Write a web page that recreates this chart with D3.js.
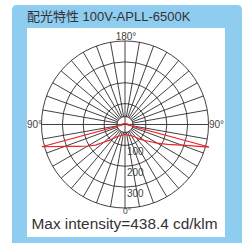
<!DOCTYPE html>
<html><head><meta charset="utf-8">
<script src="https://cdn.jsdelivr.net/npm/d3@7/dist/d3.min.js"></script>
<style>html,body{margin:0;padding:0;background:#fff;}svg{display:block;}</style>
</head><body>
<svg id="c" width="244" height="246"></svg>
<script>
// ---- data ----
const titleText = "配光特性 100V-APLL-6500K";
const footerText = "Max intensity=438.4 cd/klm";
const anglesDeg = [0,10,20,30,40,45,50,55,60,65,70,75,80,90,100,110,120,130,140,150,160,170,180];
const planeRight = [47,50,55,62,80,97,118,142,178,225,290,417,15,19,14,10,8,6,5,4,3,3,3];
const planeLeft  = [47,50,56,64,87,108,130,172,206,248,305,412,15,19,14,10,8,6,5,4,3,3,3];
const ringValues = [100,200,300,400];
const ringLabels = [100,200,300];
const spokeStep = 10;
const angleLabels = [{t:"180°",pos:"top"},{t:"0°",pos:"bottom"},{t:"90°",pos:"left"},{t:"90°",pos:"right"}];

// ---- layout ----
const svg = d3.select("#c");
const font = "'Liberation Sans','Noto Sans CJK JP',Arial,sans-serif";
const cx = 125, cy = 124.5, R = 83.5, hole = 8;
const r = d3.scaleLinear().domain([0,400]).range([0,R]);

// blue panel with rounded top corners
const bx0=12,by0=5,bx1=242,by1=243,rad=5;
svg.append("path")
  .attr("d",`M${bx0},${by1}V${by0+rad}Q${bx0},${by0} ${bx0+rad},${by0}H${bx1-rad}Q${bx1},${by0} ${bx1},${by0+rad}V${by1}Z`)
  .attr("fill","#8fcdf0");
svg.append("rect").attr("x",27).attr("y",28).attr("width",198).attr("height",209).attr("fill","#fff");

svg.append("text").attr("x",27).attr("y",21).attr("font-family",font).attr("font-size",13)
  .attr("fill","#333").text(titleText);

const g = svg.append("g").attr("transform",`translate(${cx},${cy})`);
const gridCol = "#231f20";

// spokes
d3.range(0,360,spokeStep).forEach(a=>{
  const rad_ = a*Math.PI/180;
  const axis = a%90===0;
  const r0 = axis?0:hole;
  g.append("line")
    .attr("x1",r0*Math.sin(rad_)).attr("y1",r0*Math.cos(rad_))
    .attr("x2",R*Math.sin(rad_)).attr("y2",R*Math.cos(rad_))
    .attr("stroke",gridCol).attr("stroke-width",0.85);
});
// rings
g.selectAll("circle.ring").data(ringValues).join("circle").attr("class","ring")
  .attr("r",d=>r(d)).attr("fill","none").attr("stroke",gridCol).attr("stroke-width",0.85);
g.append("circle").attr("r",hole).attr("fill","none").attr("stroke",gridCol).attr("stroke-width",0.85);

// curve
const pts = [];
anglesDeg.forEach((a,i)=>pts.push([Math.PI - a*Math.PI/180, r(planeRight[i])]));
for(let i=anglesDeg.length-2;i>=1;i--) pts.push([Math.PI + anglesDeg[i]*Math.PI/180, r(planeLeft[i])]);
const line = d3.lineRadial().angle(d=>d[0]).radius(d=>d[1]).curve(d3.curveLinearClosed);
g.append("path").attr("d",line(pts)).attr("fill","none").attr("stroke","#e8262b").attr("stroke-width",1.2);

// ring labels
g.selectAll("text.rl").data(ringLabels).join("text").attr("class","rl")
  .attr("x",2).attr("y",d=>r(d)+9.8).attr("font-family",font).attr("font-size",10)
  .attr("fill","#444").text(d=>d);

// angle labels
angleLabels.forEach(l=>{
  const t = g.append("text").attr("font-family",font).attr("font-size",10).attr("fill","#444").text(l.t);
  if(l.pos==="top") t.attr("x",1).attr("y",-R-1).attr("text-anchor","middle");
  if(l.pos==="bottom") t.attr("x",2).attr("y",R+6).attr("text-anchor","middle").attr("font-size",8.5);
  if(l.pos==="left") t.attr("x",-R+0.5).attr("y",3.5).attr("text-anchor","end");
  if(l.pos==="right") t.attr("x",R+0.5).attr("y",3.5).attr("text-anchor","start");
});

svg.append("text").attr("x",31.5).attr("y",229).attr("font-family",font).attr("font-size",15.4)
  .attr("fill","#333").text(footerText);
</script>
</body></html>
